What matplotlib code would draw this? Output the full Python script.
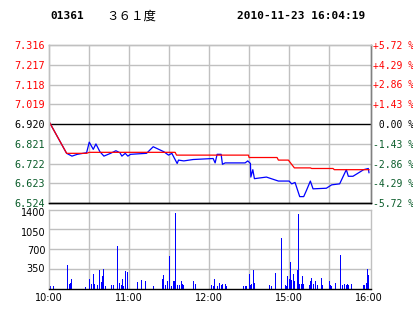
import matplotlib
matplotlib.use("Agg")
import matplotlib.pyplot as plt
from matplotlib.transforms import ScaledTranslation

# 分时数据 (分钟序号: 0 = 10:00, 240 = 16:00, 午休已去掉)
price_t = [0, 13, 17, 21, 28, 30, 33, 35, 38, 41, 46, 50, 53, 54.5, 57, 59, 61, 73, 78, 86,
           89.5, 92, 96, 97, 101, 108, 123, 124.5, 126, 129, 130, 132, 147, 149, 151, 151.3,
           152.8, 154, 163, 172, 180, 182, 184.5, 188, 191, 193, 196, 198, 208, 212, 218,
           223, 224.5, 228, 236, 239.5, 240]
price = [6.93, 6.773, 6.759, 6.768, 6.776, 6.829, 6.793, 6.820, 6.781, 6.759, 6.773, 6.786,
         6.776, 6.759, 6.773, 6.759, 6.768, 6.773, 6.806, 6.781, 6.764, 6.773, 6.722, 6.739,
         6.735, 6.742, 6.747, 6.725, 6.768, 6.768, 6.718, 6.725, 6.725, 6.735, 6.722, 6.654,
         6.691, 6.646, 6.654, 6.634, 6.634, 6.620, 6.627, 6.556, 6.556, 6.586, 6.634, 6.595,
         6.598, 6.615, 6.620, 6.691, 6.658, 6.658, 6.691, 6.697, 6.676]

avg_t = [0, 13, 28, 30, 94.5, 95.5, 149.5, 150, 171, 172, 179.5, 184, 196, 197, 213, 214, 240]
avg = [6.93, 6.773, 6.773, 6.778, 6.778, 6.764, 6.764, 6.752, 6.752, 6.739, 6.739, 6.700,
       6.700, 6.697, 6.697, 6.691, 6.691]

vol_t = [1, 3, 14, 15, 16, 17, 27, 30, 32, 33, 34, 36, 38, 39, 40, 41, 42, 47, 48, 51, 53, 54,
         55, 56, 57, 59, 66, 69, 72, 78, 85, 86, 87, 89, 90, 92, 93, 94, 95, 96, 98, 99, 100,
         101, 108, 110, 122, 123, 124, 126, 128, 129, 130, 132, 133, 146, 147, 148, 150, 151,
         152, 153, 154, 165, 167, 170, 174, 177, 178, 179, 180, 181, 182, 183, 184, 186, 187,
         188, 189, 190, 191, 195, 196, 197, 198, 200, 201, 204, 205, 210, 211, 212, 215, 219,
         220, 222, 223, 224, 225, 227, 236, 237, 238, 239, 240]
vol = [40, 40, 413, 75, 106, 177, 35, 165, 76, 253, 76, 55, 324, 118, 218, 354, 40, 55, 55,
       750, 94, 55, 160, 40, 307, 289, 112, 147, 130, 40, 165, 236, 55, 130, 572, 40, 130, 130,
       1340, 55, 55, 130, 76, 55, 130, 76, 70, 53, 165, 40, 94, 55, 76, 76, 40, 40, 40, 40,
       253, 55, 76, 324, 94, 55, 40, 271, 892, 55, 40, 218, 177, 472, 147, 265, 135, 324, 1317,
       76, 76, 218, 76, 55, 130, 189, 76, 130, 55, 189, 55, 130, 55, 40, 94, 590, 55, 76, 55,
       76, 55, 76, 55, 55, 94, 342, 236]

prev_close = 6.92
price_levels = [7.316, 7.217, 7.118, 7.019, 6.920, 6.821, 6.722, 6.623, 6.524]
pct_labels = ["+5.72 %", "+4.29 %", "+2.86 %", "+1.43 %", " 0.00 %",
              "-1.43 %", "-2.86 %", "-4.29 %", "-5.72 %"]
vol_ticks = [350, 700, 1050, 1400]
time_ticks = [0, 60, 120, 180, 240]
time_labels = ["10:00", "11:00", "12:00", "15:00", "16:00"]

RED = "#ff0000"
GREEN = "#0a5c2a"
GRID = "#c0c0c0"
W, H = 414, 314

fig = plt.figure(figsize=(W / 100, H / 100), dpi=100)
fig.patch.set_facecolor("white")

def box(x0, y0, x1, y1):
    # 像素坐标 -> figure 坐标
    return [x0 / W, 1 - y1 / H, (x1 - x0) / W, (y1 - y0) / H]

# 价格面板
ax = fig.add_axes(box(49.3, 45, 371.5, 203))
ax.set_xlim(0, 241.9)
ax.set_ylim(6.524, 7.316)
for v in [30, 60, 90, 120, 150, 180, 210]:
    ax.axvline(v, color=GRID, lw=1, zorder=1)
for lv in price_levels[1:-1]:
    ax.axhline(lv, color="black" if lv == prev_close else GRID, lw=1, zorder=1)
ax.plot(avg_t, avg, color=RED, lw=0.9, zorder=3)
ax.plot(price_t, price, color="#0000ff", lw=0.9, zorder=2)

ax.set_xticks([])
ax.set_yticks(price_levels)
ax.set_yticklabels([f"{v:.3f}" for v in price_levels], fontfamily="DejaVu Sans Mono", fontsize=7.3)
ax.tick_params(axis="y", length=0, pad=3)
for lab, v in zip(ax.get_yticklabels(), price_levels):
    lab.set_color(RED if v > prev_close else ("black" if v == prev_close else GREEN))

ax2 = ax.twinx()
ax2.set_ylim(ax.get_ylim())
ax2.set_yticks(price_levels)
ax2.set_yticklabels(pct_labels, fontfamily="DejaVu Sans Mono", fontsize=7)
ax2.tick_params(axis="y", length=0, pad=1)
for lab, v in zip(ax2.get_yticklabels(), price_levels):
    lab.set_color(RED if v > prev_close else ("black" if v == prev_close else GREEN))

for a in (ax, ax2):
    a.spines["top"].set_color(GRID)
    a.spines["left"].set_color(GRID)
    a.spines["right"].set_color("#808080")
    a.spines["bottom"].set_color("black")
    for s in a.spines.values():
        s.set_linewidth(1)

# 成交量面板
axv = fig.add_axes(box(49.3, 209.5, 371.5, 288.5))
axv.set_xlim(0, 241.9)
axv.set_ylim(0, 1400)
for v in [30, 60, 90, 120, 150, 180, 210]:
    axv.axvline(v, color=GRID, lw=1, zorder=1)
for v in vol_ticks[:-1]:
    axv.axhline(v, color=GRID, lw=1, zorder=1)
axv.bar(vol_t, vol, width=0.75, color="#0000ff", zorder=2)
axv.set_yticks([])
# 成交量刻度文字, 上面几个略往下
for v, dy in zip(vol_ticks, [0, 2, 4, 4]):
    tr = axv.get_yaxis_transform() + ScaledTranslation(-4 / 100, -dy / 100, fig.dpi_scale_trans)
    axv.text(0, v, str(v), transform=tr, ha="right", va="center", fontsize=7)
axv.set_xticks(time_ticks)
axv.set_xticklabels(time_labels, fontsize=7)
axv.tick_params(length=0, pad=3)
for s in ("top", "left", "right"):
    axv.spines[s].set_color(GRID)
axv.spines["bottom"].set_color("black")
for s in axv.spines.values():
    s.set_linewidth(1)

# 标题
fig.text(50 / W, 1 - 16 / H, "01361", fontfamily="DejaVu Sans Mono", fontweight="bold",
         fontsize=8, va="center", ha="left")
fig.text(106 / W, 1 - 16 / H, "３６１度", fontfamily=["Noto Sans CJK SC", "DejaVu Sans"],
         fontsize=9, va="center", ha="left")
fig.text(237 / W, 1 - 16 / H, "2010-11-23 16:04:19", fontfamily="DejaVu Sans Mono",
         fontweight="bold", fontsize=8, va="center", ha="left")

fig.savefig("out.png", dpi=100)
